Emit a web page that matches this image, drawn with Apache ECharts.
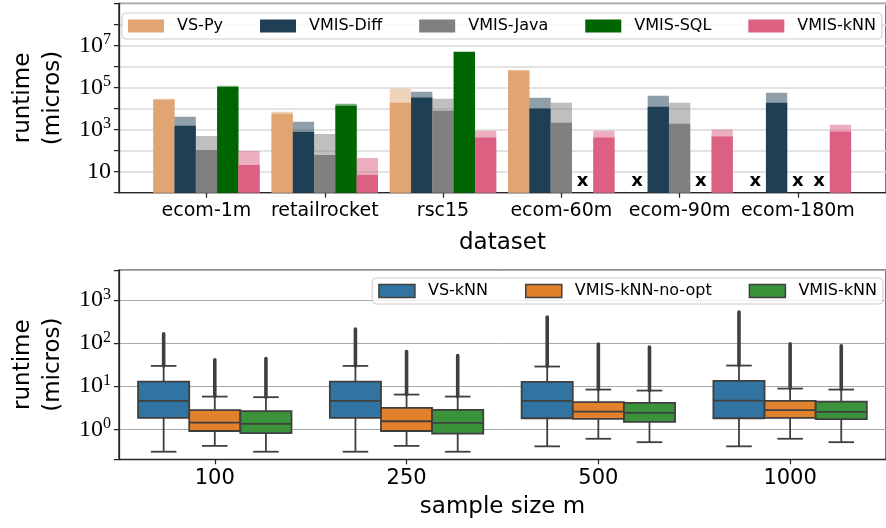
<!DOCTYPE html>
<html>
<head>
<meta charset="utf-8">
<script src="https://cdn.jsdelivr.net/npm/echarts@6/dist/echarts.min.js"></script>
<style>
  html, body { margin: 0; padding: 0; background: #ffffff; }
  #chart { width: 886px; height: 528px; }
</style>
</head>
<body>
<div id="chart"></div>
<script>
// ---------- top panel: runtime per dataset (solid = typical, light = upper range) ----------
const datasets = ['ecom-1m', 'retailrocket', 'rsc15', 'ecom-60m', 'ecom-90m', 'ecom-180m'];
const methods  = ['VS-Py', 'VMIS-Diff', 'VMIS-Java', 'VMIS-SQL', 'VMIS-kNN'];

// null = run not available (marked with an "x")
const vsPy      = [25900, 5600, 18700, 624000, null, null];
const vsPyHigh  = [29000, 6960, 86700, 697000, null, null];
const vmisDiff     = [1500, 777, 33400, 10000, 12000, 18700];
const vmisDiffHigh = [4030, 2330, 62400, 32300, 40300, 56000];
const vmisJava     = [108, 62, 7770, 2080, 1870, null];
const vmisJavaHigh = [500, 624, 29000, 18700, 18700, null];
const vmisSql      = [104000, 13400, 4850000, null, null, null];
const vmisSqlHigh  = [120000, 16700, 5100000, null, null, null];
const vmisKnn      = [20.8, 7.0, 416, 416, 464, 803];
const vmisKnnHigh  = [97, 45, 867, 867, 1000, 1675];

const topLabelExps = [1, 3, 5, 7];

// ---------- bottom panel: runtime distribution per sample size ----------
const sampleSizes = ['100', '250', '500', '1000'];
const boxMethods  = ['VS-kNN', 'VMIS-kNN-no-opt', 'VMIS-kNN'];
// rows: [lower whisker, q1, median, q3, upper whisker, largest outlier]
const vsKnnStats = [
  [0.30, 1.83, 4.55, 12.8, 29.6, 164],
  [0.30, 1.83, 4.55, 12.8, 29.6, 212],
  [0.40, 1.80, 4.55, 12.6, 28.6, 403],
  [0.40, 1.80, 4.62, 13.3, 30.1, 526]
];
const noOptStats = [
  [0.41, 0.91, 1.43, 2.77, 5.73, 40.9],
  [0.41, 0.91, 1.53, 3.13, 6.38, 63.8],
  [0.60, 1.74, 2.57, 4.25, 8.34, 94.8],
  [0.60, 1.83, 2.77, 4.55, 8.79, 96]
];
const knnStats = [
  [0.30, 0.81, 1.33, 2.62, 5.55, 43.8],
  [0.30, 0.79, 1.40, 2.81, 5.73, 51.5],
  [0.50, 1.48, 2.39, 4.09, 7.90, 80.7],
  [0.50, 1.71, 2.52, 4.39, 8.34, 86.5]
];
const bottomLabelExps = [0, 1, 2, 3];

// ---------- styling ----------
const SANS = 'DejaVu Sans';
const SERIF = 'Liberation Serif';
const INK = '#262626';
const BOX_EDGE = '#3f3f3f';
const barColors = ['#E1A574', '#1F3F55', '#808080', '#006400', '#DC6082'];
const boxColors = ['#3274A1', '#E1812C', '#3A923A'];
const BAR_STEP = 0.18;   // bar width in category units

const barSolid = [vsPy, vmisDiff, vmisJava, vmisSql, vmisKnn];
const barHigh  = [vsPyHigh, vmisDiffHigh, vmisJavaHigh, vmisSqlHigh, vmisKnnHigh];
const boxStats = [vsKnnStats, noOptStats, knnStats];

const supRich = {
  b: { fontFamily: SERIF, fontSize: 24, color: '#000', lineHeight: 27 },
  s: { fontFamily: SERIF, fontSize: 16, color: '#000', verticalAlign: 'top', lineHeight: 14 }
};

function logLabel(shownExps, plainTen) {
  return function (v) {
    const e = Math.log10(v);
    const r = Math.round(e);
    if (Math.abs(e - r) > 1e-6 || shownExps.indexOf(r) < 0) return '';
    if (plainTen && r === 1) return '{b|10}';
    return '{b|10}{s|' + r + '}';
  };
}

function renderBar(k) {
  return function (params, api) {
    const i = api.value(0);
    const solid = api.value(1);
    const high = api.value(2);
    const xc = i + (k - (methods.length - 1) / 2) * BAR_STEP;
    const base = api.coord([xc, 1]);
    const w = api.coord([xc + BAR_STEP / 2, 1])[0] - api.coord([xc - BAR_STEP / 2, 1])[0];
    if (!(solid > 0)) {
      return {
        type: 'text',
        x: base[0], y: base[1] - 11,
        style: { text: 'x', fontFamily: SANS, fontWeight: 'bold', fontSize: 18, fill: '#000', align: 'center', verticalAlign: 'middle' }
      };
    }
    const pHigh = api.coord([xc, high]);
    const pSolid = api.coord([xc, solid]);
    const color = barColors[k];
    return {
      type: 'group',
      children: [
        { type: 'rect', shape: { x: base[0] - w / 2, y: pHigh[1], width: w, height: base[1] - pHigh[1] }, style: { fill: color, opacity: 0.5 } },
        { type: 'rect', shape: { x: base[0] - w / 2, y: pSolid[1], width: w, height: base[1] - pSolid[1] }, style: { fill: color } }
      ]
    };
  };
}

function renderBox(h) {
  return function (params, api) {
    const c = api.value(0);
    const wl = api.value(1), q1 = api.value(2), med = api.value(3), q3 = api.value(4), wh = api.value(5), omax = api.value(6);
    const band = params.coordSys.width / sampleSizes.length;
    const boxW = band * 0.8 / boxMethods.length;
    const cx = api.coord([c, med])[0] + (h - (boxMethods.length - 1) / 2) * boxW;
    const y = v => api.coord([c, v])[1];
    const edge = { stroke: BOX_EDGE, lineWidth: 1.8 };
    const capHalf = boxW / 4;
    return {
      type: 'group',
      children: [
        { type: 'line', shape: { x1: cx, y1: y(wh), x2: cx, y2: y(omax) }, style: { stroke: BOX_EDGE, lineWidth: 3.6, lineCap: 'round' } },
        { type: 'line', shape: { x1: cx, y1: y(q3), x2: cx, y2: y(wh) }, style: edge },
        { type: 'line', shape: { x1: cx, y1: y(q1), x2: cx, y2: y(wl) }, style: edge },
        { type: 'line', shape: { x1: cx - capHalf, y1: y(wh), x2: cx + capHalf, y2: y(wh) }, style: edge },
        { type: 'line', shape: { x1: cx - capHalf, y1: y(wl), x2: cx + capHalf, y2: y(wl) }, style: edge },
        { type: 'rect', shape: { x: cx - boxW / 2, y: y(q3), width: boxW, height: y(q1) - y(q3) }, style: { fill: boxColors[h], stroke: BOX_EDGE, lineWidth: 1.8 } },
        { type: 'line', shape: { x1: cx - boxW / 2, y1: y(med), x2: cx + boxW / 2, y2: y(med) }, style: edge }
      ]
    };
  };
}

const barSeries = methods.map((name, k) => ({
  name: name,
  type: 'custom',
  xAxisIndex: 0, yAxisIndex: 0,
  itemStyle: { color: barColors[k] },
  encode: { x: 0, y: [1, 2] },
  renderItem: renderBar(k),
  data: datasets.map((d, i) => [i, barSolid[k][i], barHigh[k][i]])
}));

const boxSeries = boxMethods.map((name, h) => ({
  name: name,
  type: 'custom',
  xAxisIndex: 1, yAxisIndex: 1,
  itemStyle: { color: boxColors[h] },
  encode: { x: 0, y: [1, 2, 3, 4, 5, 6] },
  renderItem: renderBox(h),
  data: sampleSizes.map((s, i) => [i].concat(boxStats[h][i]))
}));

const axisLineStyle = { color: INK, width: 1.25 };
const nameStyle = { fontFamily: SANS, fontSize: 23, color: '#000', lineHeight: 30 };
const catIdx = datasets.map((d, i) => i);

const option = {
  animation: false,
  backgroundColor: '#ffffff',
  grid: [
    { left: 116, top: 3.3, width: 777, height: 189.4, show: true, borderColor: INK, borderWidth: 1.25, backgroundColor: 'transparent' },
    { left: 116, top: 270, width: 777, height: 189.3, show: true, borderColor: INK, borderWidth: 1.25, backgroundColor: 'transparent' }
  ],
  xAxis: [
    {
      gridIndex: 0, type: 'value', min: -0.7404, max: 5.745,
      axisLine: { show: true, onZero: false, lineStyle: axisLineStyle },
      axisTick: { show: true, customValues: catIdx, length: 5, lineStyle: axisLineStyle },
      axisLabel: { customValues: catIdx, formatter: v => datasets[Math.round(v)], fontFamily: SANS, fontSize: 19, color: '#000', margin: 9 },
      splitLine: { show: false },
      name: 'dataset', nameLocation: 'middle', nameGap: 35, nameTextStyle: nameStyle
    },
    {
      gridIndex: 1, type: 'category', data: sampleSizes, boundaryGap: true,
      axisLine: { show: true, onZero: false, lineStyle: axisLineStyle },
      axisTick: { show: true, alignWithLabel: true, length: 5, lineStyle: axisLineStyle },
      axisLabel: { fontFamily: SANS, fontSize: 21, color: '#000', margin: 9 },
      splitLine: { show: false },
      name: 'sample size m', nameLocation: 'middle', nameGap: 33, nameTextStyle: nameStyle
    }
  ],
  yAxis: [
    {
      gridIndex: 0, type: 'log', logBase: 10, min: 1, max: 1e9, splitNumber: 9,
      axisLine: { show: true, onZero: false, lineStyle: axisLineStyle },
      axisTick: { show: true, length: 5, lineStyle: axisLineStyle },
      axisLabel: { formatter: logLabel(topLabelExps, true), rich: supRich, margin: 8 },
      splitLine: { show: true, lineStyle: { color: '#dadada', width: 1.5 } },
      name: 'runtime\n(micros)', nameLocation: 'middle', nameRotate: 90, nameGap: 46, nameTextStyle: nameStyle
    },
    {
      gridIndex: 1, type: 'log', logBase: 10, min: 0.2, max: 5000, splitNumber: 5,
      axisLine: { show: true, onZero: false, lineStyle: axisLineStyle },
      axisTick: { show: true, length: 5, lineStyle: axisLineStyle },
      axisLabel: { formatter: logLabel(bottomLabelExps, false), rich: supRich, margin: 8 },
      splitLine: { show: true, lineStyle: { color: '#a8a8a8', width: 1 } },
      name: 'runtime\n(micros)', nameLocation: 'middle', nameRotate: 90, nameGap: 46, nameTextStyle: nameStyle
    }
  ],
  legend: [
    {
      data: methods, left: 122, top: 13,
      icon: 'rect', itemWidth: 36, itemHeight: 13, itemGap: 37,
      padding: [5, 6, 5, 6],
      borderColor: '#cccccc', borderWidth: 1, borderRadius: 4,
      backgroundColor: 'rgba(255,255,255,0.8)',
      selectedMode: false,
      textStyle: { fontFamily: SANS, fontSize: 16, color: '#000', padding: [0, 0, 0, 8] }
    },
    {
      data: boxMethods.map((name, h) => ({ name: name, itemStyle: { color: boxColors[h] } })),
      right: 3, top: 278,
      icon: 'rect', itemWidth: 36, itemHeight: 13, itemGap: 37,
      padding: [5, 6, 5, 6],
      borderColor: '#cccccc', borderWidth: 1, borderRadius: 4,
      backgroundColor: 'rgba(255,255,255,0.8)',
      selectedMode: false,
      itemStyle: { borderColor: BOX_EDGE, borderWidth: 1.5 },
      textStyle: { fontFamily: SANS, fontSize: 16, color: '#000', padding: [0, 0, 0, 8] }
    }
  ],
  series: barSeries.concat(boxSeries)
};

const chart = echarts.init(document.getElementById('chart'), null, { renderer: 'canvas' });
chart.setOption(option);
</script>
</body>
</html>
